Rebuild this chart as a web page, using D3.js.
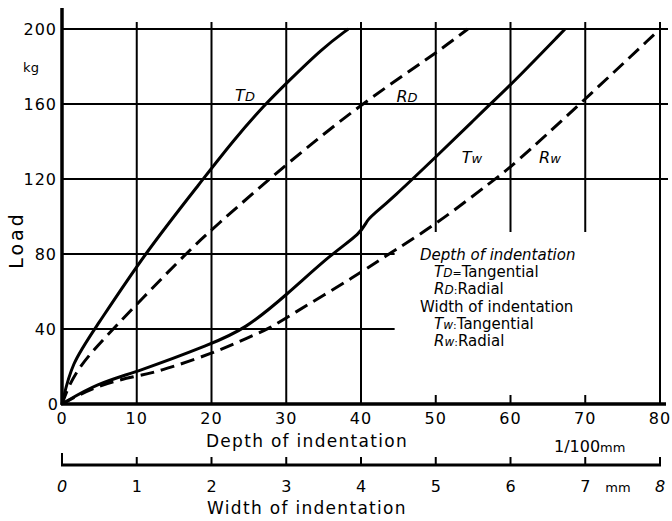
<!DOCTYPE html>
<html>
<head>
<meta charset="utf-8">
<script src="https://cdn.jsdelivr.net/npm/d3@7"></script>
<style>
  body { margin: 0; background: #fff; }
  svg { display: block; font-family: "DejaVu Sans", sans-serif; }
</style>
</head>
<body>
<svg id="chart" width="672" height="521"></svg>
<script>
// tick values
const depthTicks = [0, 10, 20, 30, 40, 50, 60, 70, 80];
const loadTicks = [0, 40, 80, 120, 160, 200];
const widthTicks = [0, 1, 2, 3, 4, 5, 6, 7, 8];

// curves: [depth (1/100 mm), load (kg)]
const tdPoints = [[0,0],[1.3,22],[4.4,40],[11,80],[18.9,120],[22.8,140],[27.2,160],[30,171],[34.9,190],[38.3,200]];
const rdPoints = [[0,0],[1.7,18],[6.8,40],[16.5,80],[20,93],[30,128],[40,160],[50,187],[54.3,200]];
const twPoints = [[0,0],[4.7,11],[10,17],[20,32],[24.5,40],[30,58],[36,80],[40,91],[40.8,98],[41.6,101],[44,109],[50.6,134],[55,151],[57.3,160],[60,170],[67.3,200]];
const rwPoints = [[0,0],[4.7,10],[10,15],[12.7,17],[20.2,27],[25.2,36],[27.6,40],[30,46],[40,70],[42.5,77],[50,95.5],[57.9,120],[60,126],[69.3,160],[80,200]];

const svg = d3.select("#chart");

const x = d3.scaleLinear().domain([0, 80]).range([62, 660]);
const xw = d3.scaleLinear().domain([0, 8]).range([62, 660]);
const y = d3.scaleLinear().domain([0, 200]).range([404, 29]);

// horizontal grid (40 and 80 stop short of the legend)
svg.append("g").selectAll("line")
  .data(loadTicks.filter(d => d > 0))
  .join("line")
  .attr("x1", x(0))
  .attr("x2", d => d <= 80 ? x(44.5) : x(80) + 8)
  .attr("y1", d => y(d))
  .attr("y2", d => y(d))
  .attr("stroke", "#000")
  .attr("stroke-width", 2);

// vertical grid (50-70 broken over the legend)
const vg = svg.append("g");
vg.selectAll("line.full")
  .data(depthTicks.filter(d => d > 0))
  .join("line")
  .attr("class", "full")
  .attr("x1", d => x(d))
  .attr("x2", d => x(d))
  .attr("y1", d => (d >= 50 && d <= 70) ? 232 : y(0))
  .attr("y2", 22)
  .attr("stroke", "#000")
  .attr("stroke-width", 2);
vg.selectAll("line.stub")
  .data(depthTicks.filter(d => d >= 50 && d <= 70))
  .join("line")
  .attr("class", "stub")
  .attr("x1", d => x(d))
  .attr("x2", d => x(d))
  .attr("y1", y(0))
  .attr("y2", y(0) - 9)
  .attr("stroke", "#000")
  .attr("stroke-width", 2);

// main axes
svg.append("line")
  .attr("x1", x(0)).attr("x2", x(0))
  .attr("y1", y(0) + 1).attr("y2", 8)
  .attr("stroke", "#000").attr("stroke-width", 3.5);
svg.append("line")
  .attr("x1", x(0) - 1).attr("x2", x(80) + 6)
  .attr("y1", y(0)).attr("y2", y(0))
  .attr("stroke", "#000").attr("stroke-width", 3.5);

// y tick labels
svg.append("g").selectAll("text")
  .data(loadTicks)
  .join("text")
  .attr("x", d => d === 0 ? 59 : 57)
  .attr("y", d => y(d) + 6)
  .attr("text-anchor", "end")
  .attr("font-size", 16)
  .attr("letter-spacing", 1)
  .text(d => d);

svg.append("text")
  .attr("x", 31).attr("y", 72)
  .attr("text-anchor", "middle")
  .attr("font-size", 13)
  .text("kg");

svg.append("text")
  .attr("transform", "translate(23,240) rotate(-90)")
  .attr("text-anchor", "middle")
  .attr("font-size", 19)
  .attr("letter-spacing", 3)
  .text("Load");

// x tick labels
svg.append("g").selectAll("text")
  .data(depthTicks)
  .join("text")
  .attr("x", d => x(d))
  .attr("y", 424)
  .attr("text-anchor", "middle")
  .attr("font-size", 16)
  .attr("letter-spacing", 1)
  .text(d => d);

svg.append("text")
  .attr("x", 307).attr("y", 447)
  .attr("text-anchor", "middle")
  .attr("font-size", 17)
  .attr("letter-spacing", 1.3)
  .text("Depth of indentation");

svg.append("text")
  .attr("x", 554).attr("y", 452)
  .attr("font-size", 16)
  .text("1/100")
  .append("tspan")
  .attr("font-size", 13)
  .text("mm");

// width axis
const wy = 465;
svg.append("line")
  .attr("x1", xw(0) - 1).attr("x2", xw(8) + 1)
  .attr("y1", wy).attr("y2", wy)
  .attr("stroke", "#000").attr("stroke-width", 3);
svg.append("g").selectAll("line")
  .data(widthTicks)
  .join("line")
  .attr("x1", d => xw(d))
  .attr("x2", d => xw(d))
  .attr("y1", wy)
  .attr("y2", d => d === 0 ? wy - 12 : wy - 8)
  .attr("stroke", "#000")
  .attr("stroke-width", 2);

svg.append("g").selectAll("text")
  .data(widthTicks)
  .join("text")
  .attr("x", d => xw(d))
  .attr("y", 492)
  .attr("text-anchor", "middle")
  .attr("font-size", 16)
  .attr("font-style", d => d === 0 || d === 8 ? "italic" : "normal")
  .text(d => d);

svg.append("text")
  .attr("x", 618).attr("y", 492)
  .attr("text-anchor", "middle")
  .attr("font-size", 13)
  .text("mm");

svg.append("text")
  .attr("x", 307).attr("y", 514)
  .attr("text-anchor", "middle")
  .attr("font-size", 17)
  .attr("letter-spacing", 1.3)
  .text("Width of indentation");

// curves
const line = d3.line()
  .x(d => x(d[0]))
  .y(d => y(d[1]))
  .curve(d3.curveBasis);

const series = [
  { pts: tdPoints, dash: null },
  { pts: rdPoints, dash: "14,7" },
  { pts: twPoints, dash: null },
  { pts: rwPoints, dash: "14,7" }
];

svg.append("g").selectAll("path")
  .data(series)
  .join("path")
  .attr("d", d => line(d.pts))
  .attr("fill", "none")
  .attr("stroke", "#000")
  .attr("stroke-width", 3)
  .attr("stroke-linejoin", "round")
  .attr("stroke-dasharray", d => d.dash);

// curve labels
const curveLabels = [
  { big: "T", small: "D", cx: 245, cy: 101 },
  { big: "R", small: "D", cx: 407, cy: 102 },
  { big: "T", small: "w", cx: 472, cy: 163 },
  { big: "R", small: "w", cx: 550, cy: 163 }
];
const cl = svg.append("g").selectAll("text")
  .data(curveLabels)
  .join("text")
  .attr("x", d => d.cx)
  .attr("y", d => d.cy)
  .attr("text-anchor", "middle")
  .attr("font-style", "italic")
  .attr("font-size", 16);
cl.append("tspan").text(d => d.big);
cl.append("tspan").attr("font-size", 13).text(d => d.small);

// legend
const lg = svg.append("g").attr("font-size", 15);
lg.append("text").attr("x", 420).attr("y", 260)
  .attr("font-style", "italic").text("Depth of indentation");
lg.append("text").attr("x", 420).attr("y", 312)
  .text("Width of indentation");

const legendRows = [
  { big: "T", small: "D", sep: "=", name: "Tangential", ly: 277 },
  { big: "R", small: "D", sep: ":", name: "Radial", ly: 294 },
  { big: "T", small: "w", sep: ":", name: "Tangential", ly: 329 },
  { big: "R", small: "w", sep: ":", name: "Radial", ly: 346 }
];
const rows = lg.selectAll("text.row")
  .data(legendRows)
  .join("text")
  .attr("class", "row")
  .attr("x", 434)
  .attr("y", d => d.ly);
rows.append("tspan").attr("font-style", "italic").text(d => d.big);
rows.append("tspan").attr("font-style", "italic").attr("font-size", 12).text(d => d.small);
rows.append("tspan").attr("font-size", 11).text(d => d.sep);
rows.append("tspan").text(d => d.name);
</script>
</body>
</html>
